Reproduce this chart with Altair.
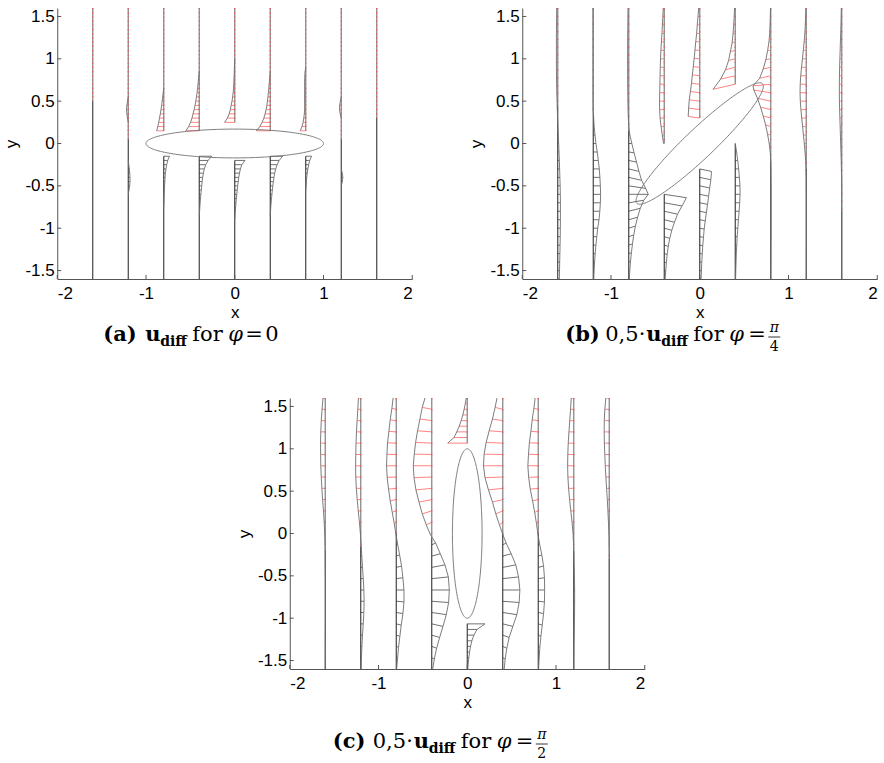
import numpy as np
import pandas as pd
import altair as alt

# ---------------- shared values ----------------
COLS = [-1.6, -1.2, -0.8, -0.4, 0.0, 0.4, 0.8, 1.2, 1.6]
X_TICKS = [-2, -1, 0, 1, 2]
Y_TICKS = [-1.5, -1, -0.5, 0, 0.5, 1, 1.5]

# ellipse (obstacle) per panel: semi-axes and rotation in degrees
ELL_A = [1.0, 1.0, 1.0]
ELL_B = [0.17, 0.17, 0.167]
ELL_ANGLE = [0, 45, 90]

# ---------------- panel (a): phi = 0 ----------------
A_M12_UP_Y = [0.55, 0.50, 0.45, 0.40, 0.35, 0.30, 0.25]
A_M12_UP_U = [0.0, -0.008, -0.016, -0.020, -0.016, -0.008, 0.0]
A_M12_LO_Y = [-0.20, -0.25, -0.30, -0.35, -0.40, -0.45, -0.50, -0.55, -0.60]
A_M12_LO_U = [0.0, 0.006, 0.012, 0.017, 0.020, 0.020, 0.016, 0.008, 0.0]
A_M08_UP_Y = [0.65, 0.60, 0.55, 0.50, 0.45, 0.40, 0.35, 0.30, 0.25, 0.20, 0.15]
A_M08_UP_U = [0.0, -0.006, -0.012, -0.018, -0.024, -0.031, -0.039, -0.048, -0.057, -0.067, -0.080]
A_M08_LO_Y = [-0.15, -0.20, -0.25, -0.30, -0.35, -0.40, -0.45, -0.50, -0.55, -0.60, -0.65, -0.70, -0.75]
A_M08_LO_U = [0.065, 0.045, 0.033, 0.025, 0.019, 0.015, 0.012, 0.009, 0.007, 0.005, 0.003, 0.002, 0.0]
A_M04_UP_Y = [0.85, 0.80, 0.75, 0.70, 0.65, 0.60, 0.55, 0.50, 0.45, 0.40, 0.35, 0.30, 0.25, 0.20, 0.15]
A_M04_UP_U = [0.0, -0.005, -0.010, -0.014, -0.019, -0.025, -0.031, -0.039, -0.048, -0.058, -0.070, -0.082, -0.098, -0.120, -0.150]
A_M04_LO_Y = [-0.15, -0.20, -0.25, -0.30, -0.35, -0.40, -0.45, -0.50, -0.55, -0.60, -0.65, -0.70, -0.75, -0.80, -0.85]
A_M04_LO_U = [0.140, 0.100, 0.073, 0.057, 0.047, 0.039, 0.033, 0.028, 0.023, 0.018, 0.014, 0.010, 0.007, 0.004, 0.0]
A_00_UP_Y = [1.00, 0.95, 0.90, 0.85, 0.80, 0.75, 0.70, 0.65, 0.60, 0.55, 0.50, 0.45, 0.40, 0.35, 0.30, 0.25]
A_00_UP_U = [0.0, -0.002, -0.004, -0.005, -0.007, -0.009, -0.011, -0.014, -0.018, -0.024, -0.031, -0.040, -0.050, -0.063, -0.082, -0.115]
A_00_LO_Y = [-0.20, -0.25, -0.30, -0.35, -0.40, -0.45, -0.50, -0.55, -0.60, -0.65, -0.70, -0.75, -0.80, -0.85, -0.90]
A_00_LO_U = [0.115, 0.080, 0.064, 0.053, 0.045, 0.039, 0.033, 0.028, 0.023, 0.018, 0.014, 0.010, 0.006, 0.003, 0.0]
A_04_UP_Y = [0.85, 0.80, 0.75, 0.70, 0.65, 0.60, 0.55, 0.50, 0.45, 0.40, 0.35, 0.30, 0.25, 0.20, 0.15]
A_04_UP_U = [0.0, -0.004, -0.008, -0.013, -0.017, -0.021, -0.026, -0.032, -0.038, -0.047, -0.058, -0.072, -0.092, -0.118, -0.155]
A_04_LO_Y = [-0.15, -0.20, -0.25, -0.30, -0.35, -0.40, -0.45, -0.50, -0.55, -0.60, -0.65, -0.70, -0.75, -0.80, -0.85]
A_04_LO_U = [0.140, 0.100, 0.078, 0.062, 0.050, 0.042, 0.035, 0.029, 0.024, 0.019, 0.014, 0.010, 0.006, 0.003, 0.0]
A_08_UP_Y = [0.90, 0.85, 0.80, 0.75, 0.70, 0.65, 0.60, 0.55, 0.50, 0.45, 0.40, 0.35, 0.30, 0.25, 0.20, 0.15]
A_08_UP_U = [0.0, -0.008, -0.011, -0.012, -0.013, -0.013, -0.013, -0.013, -0.013, -0.013, -0.013, -0.016, -0.022, -0.030, -0.042, -0.062]
A_08_LO_Y = [-0.15, -0.20, -0.25, -0.30, -0.35, -0.40, -0.45, -0.50, -0.55]
A_08_LO_U = [0.066, 0.045, 0.033, 0.024, 0.017, 0.011, 0.007, 0.004, 0.0]
A_12_UP_Y = [0.55, 0.50, 0.45, 0.40, 0.35, 0.30]
A_12_UP_U = [0.0, -0.010, -0.018, -0.020, -0.012, 0.0]
A_12_LO_Y = [-0.30, -0.35, -0.40, -0.45, -0.50]
A_12_LO_U = [0.0, 0.012, 0.018, 0.012, 0.0]
# where each column's base line is cut by the ellipse (None = not cut)
A_GAP_HI = [None, None, 0.15, 0.15, 0.25, 0.15, 0.15, None, None]
A_GAP_LO = [None, None, -0.15, -0.15, -0.20, -0.15, -0.15, None, None]
A_SPLIT = [0.5, 0.05, 0.0, 0.0, 0.0, 0.0, 0.0, 0.05, 0.3]

# ---------------- panel (b): phi = pi/4 ----------------
B_Y = [1.6, 1.5, 1.4, 1.3, 1.2, 1.1, 1.0, 0.9, 0.8, 0.7, 0.6, 0.5, 0.4, 0.3, 0.2, 0.1, 0.0,
       -0.1, -0.2, -0.3, -0.4, -0.5, -0.6, -0.7, -0.8, -0.9, -1.0, -1.1, -1.2, -1.3, -1.4, -1.5, -1.6]
B_U_M16 = [-0.012, -0.013, -0.014, -0.015, -0.015, -0.015, -0.015, -0.015, -0.014, -0.013, -0.011, -0.008, -0.005,
           -0.002, 0.002, 0.006, 0.010, 0.014, 0.018, 0.021, 0.024, 0.027, 0.029, 0.030, 0.030, 0.030, 0.029,
           0.028, 0.026, 0.024, 0.022, 0.020, 0.018]
B_U_M12 = [-0.003, -0.003, -0.003, -0.003, -0.003, -0.003, -0.003, -0.003, -0.003, -0.003, -0.003, -0.003, -0.003,
           0.005, 0.010, 0.020, 0.030, 0.045, 0.057, 0.068, 0.075, 0.080, 0.083, 0.080, 0.074, 0.065, 0.050,
           0.040, 0.030, 0.022, 0.015, 0.010, 0.006]
B_U_M08 = [-0.008, -0.010, -0.010, -0.012, -0.012, -0.013, -0.013, -0.013, -0.013, -0.012, -0.011, -0.010, -0.008,
           -0.005, 0.0, 0.012, 0.035, 0.060, 0.088, 0.115, 0.145, 0.190, 0.220, 0.170, 0.130, 0.100, 0.075,
           0.056, 0.042, 0.030, 0.020, 0.012, 0.006]
B_V_M08 = [0, 0, 0, 0, 0, 0, 0, 0, 0, 0, 0, 0, 0,
           0, 0, 0, 0, -0.010, -0.020, -0.030, -0.035, -0.030, 0.0, 0.030, 0.035, 0.030, 0.025,
           0.020, 0.015, 0.010, 0.008, 0.005, 0.0]
B_U_M04 = [-0.011, -0.016, -0.021, -0.026, -0.032, -0.038, -0.042, -0.045, -0.047, -0.049, -0.051, -0.053, -0.052,
           -0.047, -0.036, -0.022, -0.008, None, None, None, None, None, 0.250, 0.200, 0.150, 0.115, 0.085,
           0.062, 0.045, 0.033, 0.024, 0.017, 0.010]
B_V_M04 = [0, 0, 0, 0, 0, 0, 0, 0, 0, 0, 0, 0, 0,
           0, 0, 0, 0, 0, 0, 0, 0, 0, -0.040, -0.038, -0.035, -0.030, -0.025,
           -0.020, -0.015, -0.010, -0.008, -0.005, -0.003]
B_U_00 = [-0.012, -0.020, -0.028, -0.035, -0.045, -0.054, -0.063, -0.073, -0.083, -0.093, -0.105, -0.118, -0.125,
          -0.130, None, None, None, None, None, 0.133, 0.125, 0.112, 0.100, 0.088, 0.075, 0.062, 0.050,
          0.042, 0.034, 0.028, 0.023, 0.019, 0.015]
B_V_00 = [0, 0, 0, 0, 0.002, 0.004, 0.006, 0.008, 0.010, 0.012, 0.014, 0.016, 0.018,
          0.020, 0, 0, 0, 0, 0, -0.030, -0.028, -0.025, -0.022, -0.019, -0.016, -0.013, -0.010,
          -0.008, -0.006, -0.004, -0.003, -0.002, 0.0]
B_U_04 = [-0.008, -0.012, -0.018, -0.025, -0.035, -0.055, -0.075, -0.110, -0.165, -0.250, None, None, None,
          None, None, None, 0.0, 0.015, 0.028, 0.038, 0.047, 0.053, 0.054, 0.050, 0.044, 0.036, 0.029,
          0.022, 0.017, 0.012, 0.009, 0.006, 0.004]
B_V_04 = [0, 0, -0.005, -0.005, -0.010, -0.015, -0.020, -0.030, -0.040, -0.060, 0, 0, 0,
          0, 0, 0, 0, 0, 0, 0, 0, 0, 0, 0, 0, 0, 0,
          0, 0, 0, 0, 0, 0]
B_U_08 = [-0.003, -0.005, -0.008, -0.012, -0.020, -0.035, -0.055, -0.085, -0.125, -0.200, -0.190, -0.150, -0.115,
          -0.085, -0.058, -0.036, -0.018, -0.006, 0.0, 0.002, 0.003, 0.004, 0.004, 0.004, 0.004, 0.004, 0.004,
          0.004, 0.003, 0.003, 0.003, 0.002, 0.002]
B_V_08 = [0, 0, 0, 0, 0, 0, -0.010, -0.020, -0.030, -0.020, 0.030, 0.035, 0.030,
          0.025, 0.020, 0.010, 0.005, 0, 0, 0, 0, 0, 0, 0, 0, 0, 0,
          0, 0, 0, 0, 0, 0]
B_U_12 = [-0.004, -0.007, -0.011, -0.016, -0.024, -0.033, -0.043, -0.053, -0.062, -0.068, -0.070, -0.067, -0.060,
          -0.051, -0.041, -0.032, -0.022, -0.014, -0.007, -0.003, 0.0, 0.0, 0.001, 0.001, 0.001, 0.001, 0.001,
          0.001, 0.001, 0.0, 0.0, 0.0, 0.0]
B_U_16 = [-0.005, -0.007, -0.009, -0.012, -0.015, -0.018, -0.021, -0.024, -0.026, -0.027, -0.027, -0.026, -0.024,
          -0.021, -0.018, -0.015, -0.012, -0.009, -0.006, -0.004, -0.002, 0.0, 0.0, 0.0, 0.0, 0.0, 0.0,
          0.0, 0.0, 0.0, 0.0, 0.0, 0.0]
# below this y a column's hatches are black, above it red
B_SPLIT = [0.45, 0.35, 0.15, -0.3, 0.0, 0.05, -0.2, -0.3, -0.8]

# ---------------- panel (c): phi = pi/2 ----------------
C_Y = [1.6, 1.467, 1.333, 1.2, 1.067, 0.933, 0.8, 0.667, 0.533, 0.4, 0.267, 0.133, 0.0,
       -0.133, -0.267, -0.4, -0.533, -0.667, -0.8, -0.933, -1.067, -1.2, -1.333, -1.467, -1.6]
C_U_M16 = [-0.025, -0.036, -0.045, -0.050, -0.053, -0.052, -0.050, -0.045, -0.038, -0.030, -0.020, -0.012, -0.006,
           -0.002, 0.0, 0.001, 0.002, 0.002, 0.002, 0.002, 0.002, 0.001, 0.001, 0.001, 0.0]
C_U_M12 = [-0.026, -0.033, -0.041, -0.048, -0.053, -0.056, -0.058, -0.056, -0.050, -0.040, -0.028, -0.015, -0.004,
           0.004, 0.012, 0.020, 0.028, 0.035, 0.038, 0.035, 0.028, 0.020, 0.013, 0.008, 0.004]
C_U_M08 = [-0.034, -0.049, -0.068, -0.083, -0.098, -0.105, -0.109, -0.102, -0.087, -0.068, -0.045, -0.023, -0.004,
           0.015, 0.038, 0.060, 0.075, 0.087, 0.087, 0.075, 0.056, 0.041, 0.026, 0.015, 0.004]
C_U_M04 = [-0.069, -0.107, -0.133, -0.160, -0.182, -0.197, -0.208, -0.200, -0.178, -0.144, -0.107, -0.062, -0.017,
           0.044, 0.096, 0.149, 0.187, 0.198, 0.190, 0.164, 0.126, 0.089, 0.055, 0.029, 0.010]
C_U_04 = [-0.060, -0.086, -0.116, -0.153, -0.187, -0.210, -0.217, -0.200, -0.161, -0.116, -0.078, -0.037, 0.0,
          0.038, 0.095, 0.147, 0.178, 0.193, 0.185, 0.159, 0.114, 0.072, 0.046, 0.027, 0.016]
C_U_08 = [-0.034, -0.049, -0.068, -0.083, -0.100, -0.110, -0.117, -0.108, -0.090, -0.064, -0.040, -0.020, -0.004,
          0.015, 0.040, 0.060, 0.070, 0.072, 0.070, 0.060, 0.045, 0.030, 0.018, 0.010, 0.004]
C_U_12 = [-0.028, -0.036, -0.045, -0.054, -0.062, -0.067, -0.069, -0.066, -0.058, -0.047, -0.033, -0.019, -0.008,
          -0.002, 0.002, 0.005, 0.008, 0.010, 0.010, 0.009, 0.007, 0.005, 0.003, 0.002, 0.001]
C_U_16 = [-0.038, -0.050, -0.056, -0.057, -0.055, -0.050, -0.045, -0.038, -0.030, -0.022, -0.015, -0.009, -0.004,
          -0.001, 0.0, 0.0, 0.0, 0.0, 0.0, 0.0, 0.0, 0.0, 0.0, 0.0, 0.0]
C_V_04 = [0.025, 0.022, 0.018, 0.013, 0.008, 0.004, 0.0, -0.008, -0.018, -0.028, -0.035, -0.030, -0.010,
          0.020, 0.028, 0.030, 0.020, 0.0, -0.015, -0.025, -0.030, -0.028, -0.022, -0.015, -0.008]
C_V_08 = [0.012, 0.011, 0.009, 0.006, 0.004, 0.002, 0.0, -0.004, -0.009, -0.014, -0.017, -0.015, -0.005,
          0.010, 0.014, 0.015, 0.010, 0.0, -0.008, -0.012, -0.015, -0.014, -0.011, -0.008, -0.004]
# centre column of (c) is cut by the ellipse and sampled more finely
C_Y0_UP = [1.6, 1.533, 1.467, 1.4, 1.333, 1.267, 1.2, 1.133, 1.067]
C_U0_UP = [-0.012, -0.022, -0.035, -0.050, -0.068, -0.090, -0.118, -0.150, -0.220]
C_Y0_LO = [-1.067, -1.133, -1.2, -1.267, -1.333, -1.4, -1.467, -1.533, -1.6]
C_U0_LO = [0.200, 0.110, 0.075, 0.052, 0.037, 0.026, 0.018, 0.011, 0.006]
C_SPLIT = [-0.2, -0.15, 0.0, -0.05, 0.0, 0.0, 0.0, -0.2, -0.3]

# ---------------- helpers ----------------
W, H = 355, 271
XS = alt.Scale(domain=[-2, 2], nice=False, zero=False)
YS = alt.Scale(domain=[-1.6, 1.6], nice=False, zero=False)
AXIS_COMMON = dict(grid=False, ticks=False, domainColor="#555555", domainWidth=1,
                   labelFont="Liberation Sans", labelFontSize=17, labelColor="black",
                   titleFont="Liberation Sans", titleFontSize=17, titleFontWeight="normal",
                   titleColor="black", labelExpr="datum.value + ''")
X_AX = alt.Axis(title="x", values=X_TICKS, labelPadding=6, titlePadding=3, **AXIS_COMMON)
Y_AX = alt.Axis(title="y", values=Y_TICKS, labelPadding=3, titlePadding=4, **AXIS_COMMON)


def profile_rows(x0, ys, us, vs, split, tag):
    rows, run, prev_none = [], 0, True
    for i, (y, u, v) in enumerate(zip(ys, us, vs)):
        if u is None:
            if not prev_none:
                run += 1
            prev_none = True
            continue
        prev_none = False
        rows.append(dict(seg=f"{tag}_{run}", i=i, x0=x0, x1=x0 + u, y=y, y1=y + v,
                         c="r" if y > split else "k"))
    return rows


def split_base(segments, splits):
    """Cut each base-line piece into an upper (grey, red-dotted) and a lower (dark) part."""
    out = []
    for x0, ya, yb in segments:
        s = splits[COLS.index(x0)]
        if yb > s:
            out.append(dict(x0=x0, ya=max(ya, s), yb=yb, part="up"))
        if ya < s:
            out.append(dict(x0=x0, ya=ya, yb=min(yb, s), part="lo"))
    return pd.DataFrame(out)


def ellipse_df(k):
    t = np.linspace(0, 2 * np.pi, 241)
    th = np.radians(ELL_ANGLE[k])
    a, b = ELL_A[k], ELL_B[k]
    return pd.DataFrame({"t": t,
                         "ex": a * np.cos(t) * np.cos(th) - b * np.sin(t) * np.sin(th),
                         "ey": a * np.cos(t) * np.sin(th) + b * np.sin(t) * np.cos(th)})


def txt(s, x, y, size=21, weight="normal", style="normal", align="left"):
    return alt.Chart(pd.DataFrame({"t": [s]})).mark_text(
        align=align, baseline="alphabetic", font="DejaVu Serif", fontSize=size,
        fontWeight=weight, fontStyle=style, color="black").encode(
        text="t:N", x=alt.value(x), y=alt.value(y))


def caption(label, prefix, phi_parts, y0):
    if prefix:
        layers = [txt(label, 43, y0, weight="bold"), txt("0,5·", 83, y0)]
        ux = 124
    else:
        layers = [txt(label, 46, y0, weight="bold")]
        ux = 88
    layers.append(txt("u", ux, y0, weight="bold"))
    layers.append(txt("diff", ux + 15, y0 + 5, size=14, weight="bold"))
    fx = ux + 47
    layers.append(txt("for", fx, y0))
    layers.append(txt("φ", fx + 36, y0, style="italic"))
    if phi_parts is None:
        layers.append(txt("=", fx + 53, y0))
        layers.append(txt("0", fx + 73, y0))
    else:
        num, den = phi_parts
        layers.append(txt("=", fx + 55, y0))
        cx = fx + 81
        layers.append(txt(num, cx, y0 - 9, size=14, style="italic", align="center"))
        layers.append(txt(den, cx, y0 + 10, size=14, align="center"))
        layers.append(alt.Chart(pd.DataFrame({"t": [0]})).mark_rule(color="black", strokeWidth=0.8)
                      .encode(x=alt.value(cx - 6), x2=alt.value(cx + 6), y=alt.value(y0 - 4)))
    return layers


def panel(rows, base_df, k, caption_layers, dot_gap):
    df = pd.DataFrame(rows)
    ell = ellipse_df(k)
    up = base_df[base_df["part"] == "up"]
    lo = base_df[base_df["part"] == "lo"]
    base_up = alt.Chart(up).mark_rule(color="#8a8a8a", strokeWidth=1.3).encode(
        x=alt.X("x0:Q", scale=XS, axis=X_AX), y=alt.Y("ya:Q", scale=YS, axis=Y_AX), y2="yb:Q")
    base_dots = alt.Chart(up).mark_rule(color="#ff4d4d", strokeWidth=1.2, strokeDash=[1.2, dot_gap]).encode(
        x=alt.X("x0:Q", scale=XS, axis=X_AX), y=alt.Y("yb:Q", scale=YS, axis=Y_AX), y2="ya:Q")
    base_lo = alt.Chart(lo).mark_rule(color="#333333", strokeWidth=1.1).encode(
        x=alt.X("x0:Q", scale=XS, axis=X_AX), y=alt.Y("ya:Q", scale=YS, axis=Y_AX), y2="yb:Q")
    hatch = alt.Chart(df).mark_rule(strokeWidth=0.7, clip=True).encode(
        x=alt.X("x0:Q", scale=XS, axis=X_AX), x2="x1:Q",
        y=alt.Y("y:Q", scale=YS, axis=Y_AX), y2="y1:Q",
        color=alt.Color("c:N", scale=alt.Scale(domain=["r", "k"], range=["#ff4d4d", "#333333"]), legend=None))
    curve = alt.Chart(df).mark_line(color="#6e6e6e", strokeWidth=0.9, clip=True).encode(
        x=alt.X("x1:Q", scale=XS, axis=X_AX), y=alt.Y("y1:Q", scale=YS, axis=Y_AX),
        detail="seg:N", order="i:Q")
    ellipse = alt.Chart(ell).mark_line(color="#6e6e6e", strokeWidth=0.9).encode(
        x=alt.X("ex:Q", scale=XS, axis=X_AX), y=alt.Y("ey:Q", scale=YS, axis=Y_AX), order="t:Q")
    xt = alt.Chart(pd.DataFrame({"v": X_TICKS})).mark_rule(color="#555555").encode(
        x=alt.X("v:Q", scale=XS, axis=X_AX), y=alt.value(H), y2=alt.value(H - 4))
    yt = alt.Chart(pd.DataFrame({"v": Y_TICKS})).mark_rule(color="#555555").encode(
        y=alt.Y("v:Q", scale=YS, axis=Y_AX), x=alt.value(0), x2=alt.value(4))
    return alt.layer(hatch, base_up, base_dots, base_lo, curve, ellipse, xt, yt,
                     *caption_layers).properties(width=W, height=H)


def base_segments_from_rows(rows):
    d = pd.DataFrame(rows)
    g = d.groupby("seg").agg(x0=("x0", "first"), ya=("y", "min"), yb=("y", "max"))
    return [(r.x0, r.ya, r.yb) for r in g.itertuples()]


# ---------------- build panel (a) ----------------
a_rows = []
a_segs = [(-1.2, A_M12_UP_Y, A_M12_UP_U), (-1.2, A_M12_LO_Y, A_M12_LO_U),
          (-0.8, A_M08_UP_Y, A_M08_UP_U), (-0.8, A_M08_LO_Y, A_M08_LO_U),
          (-0.4, A_M04_UP_Y, A_M04_UP_U), (-0.4, A_M04_LO_Y, A_M04_LO_U),
          (0.0, A_00_UP_Y, A_00_UP_U), (0.0, A_00_LO_Y, A_00_LO_U),
          (0.4, A_04_UP_Y, A_04_UP_U), (0.4, A_04_LO_Y, A_04_LO_U),
          (0.8, A_08_UP_Y, A_08_UP_U), (0.8, A_08_LO_Y, A_08_LO_U),
          (1.2, A_12_UP_Y, A_12_UP_U), (1.2, A_12_LO_Y, A_12_LO_U)]
for n, (x0, ys, us) in enumerate(a_segs):
    a_rows += profile_rows(x0, ys, us, [0.0] * len(ys), 0.0, f"a{n}")
a_base = []
for x0, hi, lo in zip(COLS, A_GAP_HI, A_GAP_LO):
    if hi is None:
        a_base.append((x0, -1.6, 1.6))
    else:
        a_base.append((x0, hi, 1.6))
        a_base.append((x0, -1.6, lo))

# ---------------- build panel (b) ----------------
b_us = [B_U_M16, B_U_M12, B_U_M08, B_U_M04, B_U_00, B_U_04, B_U_08, B_U_12, B_U_16]
b_vs = [None, None, B_V_M08, B_V_M04, B_V_00, B_V_04, B_V_08, None, None]
b_rows = []
for j, x0 in enumerate(COLS):
    vs = b_vs[j] if b_vs[j] is not None else [0.0] * len(B_Y)
    b_rows += profile_rows(x0, B_Y, b_us[j], vs, B_SPLIT[j], f"b{j}")

# ---------------- build panel (c) ----------------
c_us = [C_U_M16, C_U_M12, C_U_M08, C_U_M04, None, C_U_04, C_U_08, C_U_12, C_U_16]
c_vs = [None, None, C_V_08, C_V_04, None, C_V_04, C_V_08, None, None]
c_rows = []
for j, x0 in enumerate(COLS):
    if c_us[j] is None:
        c_rows += profile_rows(x0, C_Y0_UP, C_U0_UP, [0.0] * len(C_Y0_UP), C_SPLIT[j], "c0u")
        c_rows += profile_rows(x0, C_Y0_LO, C_U0_LO, [0.0] * len(C_Y0_LO), C_SPLIT[j], "c0l")
        continue
    vs = c_vs[j] if c_vs[j] is not None else [0.0] * len(C_Y)
    c_rows += profile_rows(x0, C_Y, c_us[j], vs, C_SPLIT[j], f"c{j}")

pa = panel(a_rows, split_base(a_base, A_SPLIT), 0, caption("(a)", False, None, 333), 3.0)
pb = panel(b_rows, split_base(base_segments_from_rows(b_rows), B_SPLIT), 1,
           caption("(b)", True, ("π", "4"), 333), 6.5)
pc = panel(c_rows, split_base(base_segments_from_rows(c_rows), C_SPLIT), 2,
           caption("(c)", True, ("π", "2"), 350), 10.0)

row = alt.hconcat(pa, pb, spacing=54)
chart = alt.vconcat(row, pc, spacing=43, center=True).configure_view(stroke=None).properties(
    padding={"left": 2, "top": 7, "right": 0, "bottom": 0})

chart.save("out.html", embed_options={"renderer": "svg", "actions": False})
